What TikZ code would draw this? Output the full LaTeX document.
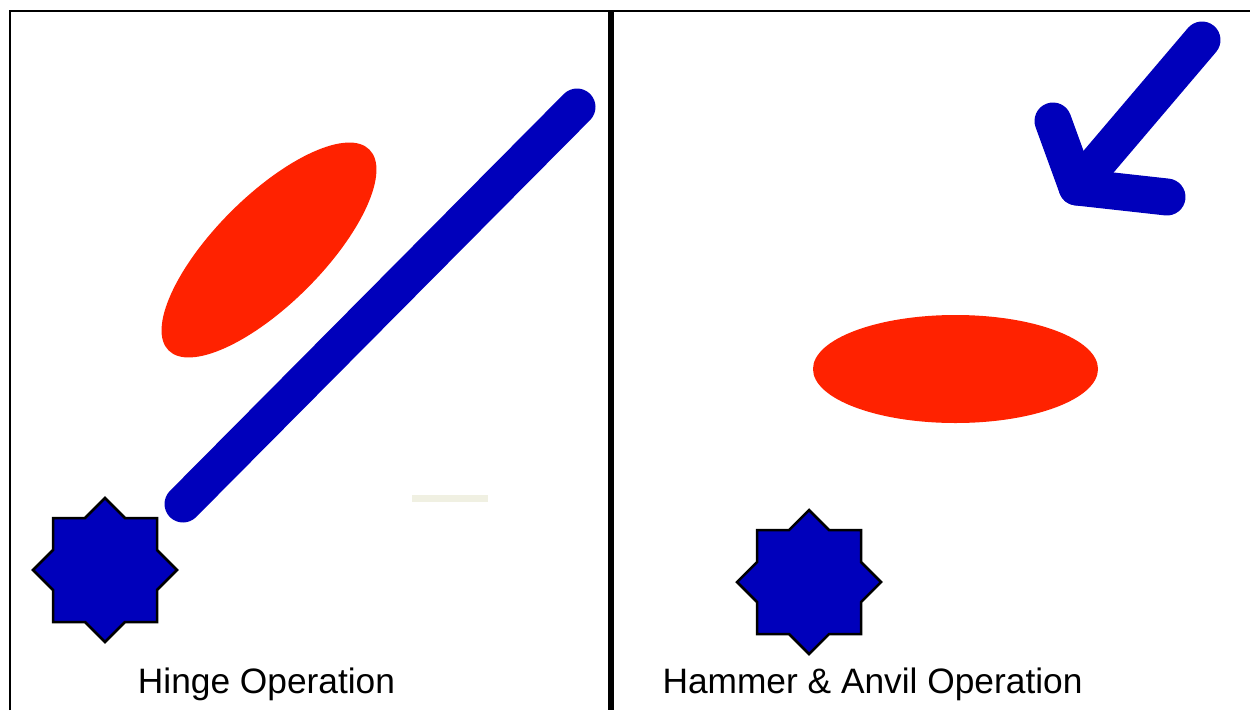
\documentclass[tikz,border=0pt]{standalone}
\usepackage{fontspec}
\setmainfont{Liberation Sans}
\definecolor{dblue}{RGB}{0,0,187}
\definecolor{ored}{RGB}{255,34,0}
\definecolor{beige}{RGB}{240,240,226}
\tikzset{
  frameline/.style={draw=black, line width=0.045cm},
  divider/.style={draw=black, line width=0.12cm},
  bluestroke/.style={draw=dblue, line width=0.74cm, line cap=round, line join=round},
  redblob/.style={fill=ored},
  starstyle/.style={fill=dblue, draw=black, line width=0.05cm, line join=miter},
  caption/.style={anchor=base, inner sep=0pt, font=\fontsize{20.1}{22}\selectfont},
  star8/.pic={
    \path[starstyle] (0,-72) -- (20,-52) -- (52,-52) -- (52,-20) -- (72,0) -- (52,20) -- (52,52) -- (20,52)
      -- (0,72) -- (-20,52) -- (-52,52) -- (-52,20) -- (-72,0) -- (-52,-20) -- (-52,-52) -- (-20,-52) -- cycle;
  }
}
\begin{document}
\begin{tikzpicture}[x=0.02cm,y=-0.02cm]
\useasboundingbox[fill=white] (0,0) rectangle (1250,710);
% frame
\draw[frameline] (10,710) -- (10,11) -- (1250,11);
\draw[divider] (611,11) -- (611,710);
% left panel
\fill[redblob, rotate around={45:(269,250)}] (269,250) ellipse [x radius=142, y radius=54];
\coordinate (hA) at (183,504);
\coordinate (hB) at (577,107);
\draw[bluestroke] (hA) -- (hB);
\fill[beige] (412,495) rectangle (488,502);
\pic at (105,570) {star8};
\node[caption] (hinge) at (266.5,693) {Hinge Operation};
% right panel
\fill[redblob] (955.5,369) ellipse [x radius=142.5, y radius=54];
\coordinate (aS) at (1202,40);
\coordinate (aC) at (1077,187);
\coordinate (aL) at (1053,121);
\coordinate (aR) at (1167,197);
\draw[bluestroke] (aS) -- (aC);
\draw[bluestroke] (aL) -- (aC) -- (aR);
\pic at (809,582) {star8};
\node[caption] (anvil) at (872.5,693) {Hammer \& Anvil Operation};
\end{tikzpicture}
\end{document}
